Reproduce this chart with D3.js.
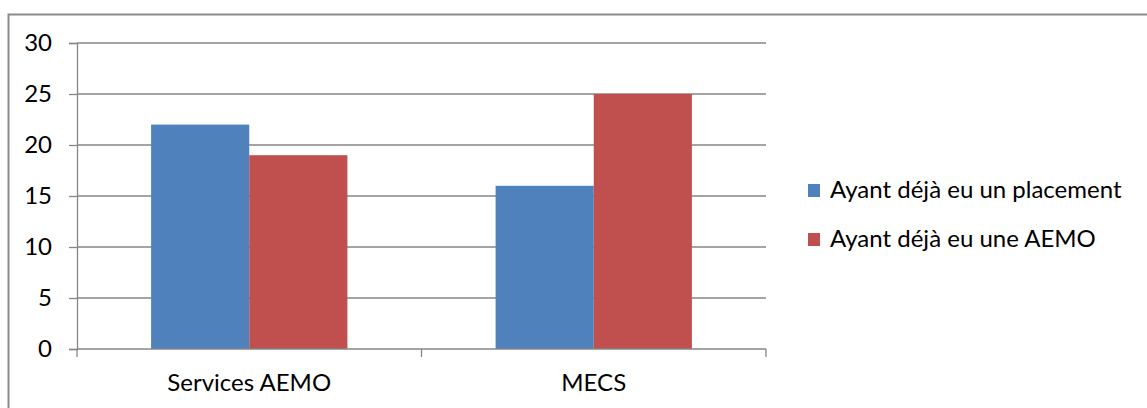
<!DOCTYPE html>
<html>
<head>
<meta charset="utf-8">
<script src="https://cdn.jsdelivr.net/npm/d3@7"></script>
<style>
  html, body { margin: 0; padding: 0; background: #fff; }
  svg text { font-family: Lato, "Open Sans", sans-serif; fill: #000; }
</style>
</head>
<body>
<svg id="chart" width="1147" height="408"></svg>
<script>
// Data
const categories = ["Services AEMO", "MECS"];
const seriesNames = ["Ayant déjà eu un placement", "Ayant déjà eu une AEMO"];
const placement = [22, 16];
const aemo = [19, 25];
const yTicks = [0, 5, 10, 15, 20, 25, 30];
const colors = ["#4f81bd", "#c0504d"];

const svg = d3.select("#chart");
const W = 1147, H = 408;
const plot = { left: 77, right: 766, top: 43, bottom: 349 };
const fontSize = 24;

// Outer frame (continues past right and bottom edges)
svg.append("rect")
  .attr("x", 8.5).attr("y", 14.5)
  .attr("width", W + 20).attr("height", H + 20)
  .attr("fill", "none").attr("stroke", "#8a8a8a").attr("stroke-width", 2);

const x = d3.scaleBand().domain(categories).range([plot.left, plot.right]);
const xs = d3.scaleBand().domain(seriesNames).range([0, x.bandwidth()]).paddingOuter(0.755).paddingInner(0);
const y = d3.scaleLinear().domain([0, 30]).range([plot.bottom, plot.top]);

// Gridlines
svg.append("g").selectAll("line").data(yTicks.filter(d => d > 0)).join("line")
  .attr("x1", plot.left).attr("x2", plot.right)
  .attr("y1", d => y(d)).attr("y2", d => y(d))
  .attr("stroke", "#868686").attr("stroke-width", 1.3);

// Bars
const rows = categories.map((c, i) => ({ cat: c, vals: [placement[i], aemo[i]] }));
const groups = svg.append("g").selectAll("g").data(rows).join("g")
  .attr("transform", d => `translate(${x(d.cat)},0)`);
groups.selectAll("rect").data(d => d.vals.map((v, j) => ({ v, s: seriesNames[j], j }))).join("rect")
  .attr("x", d => xs(d.s))
  .attr("width", xs.bandwidth())
  .attr("y", d => y(d.v))
  .attr("height", d => y(0) - y(d.v))
  .attr("fill", d => colors[d.j]);

// Y axis
const yAxis = d3.axisLeft(y).tickValues(yTicks).tickSize(8).tickPadding(17);
const yg = svg.append("g").attr("transform", `translate(${plot.left},0)`).call(yAxis);
yg.select(".domain").attr("stroke", "#868686").attr("stroke-width", 1.3);
yg.selectAll(".tick line").attr("stroke", "#868686").attr("stroke-width", 1.3);
yg.selectAll(".tick text").style("font-size", fontSize + "px").attr("font-family", "Lato, 'Open Sans', sans-serif");

// X axis with category boundary ticks
const xg = svg.append("g").attr("transform", `translate(0,${plot.bottom})`);
xg.append("line").attr("x1", plot.left).attr("x2", plot.right).attr("y1", 0).attr("y2", 0)
  .attr("stroke", "#868686").attr("stroke-width", 1.3);
const bounds = [x.range()[0]].concat(categories.map(c => x(c) + x.bandwidth()));
xg.selectAll("line.tick").data(bounds).join("line").attr("class", "tick")
  .attr("x1", d => d).attr("x2", d => d).attr("y1", 0).attr("y2", 8)
  .attr("stroke", "#868686").attr("stroke-width", 1.3);
xg.selectAll("text").data(categories).join("text")
  .attr("x", d => x(d) + x.bandwidth() / 2)
  .attr("y", 42)
  .attr("text-anchor", "middle")
  .style("font-size", fontSize + "px")
  .text(d => d);

// Legend
const legend = svg.append("g").attr("transform", "translate(808,183)");
const li = legend.selectAll("g").data(seriesNames).join("g")
  .attr("transform", (d, i) => `translate(0,${i * 49})`);
li.append("rect").attr("width", 12).attr("height", 13).attr("y", 1)
  .attr("fill", (d, i) => colors[i]);
li.append("text").attr("x", 22).attr("y", 14.5)
  .style("font-size", fontSize + "px")
  .text(d => d);
</script>
</body>
</html>
